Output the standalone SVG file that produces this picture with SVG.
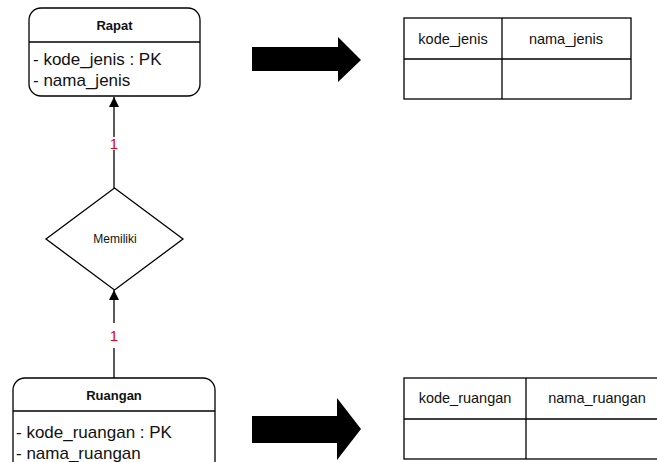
<svg xmlns="http://www.w3.org/2000/svg" width="657" height="462" viewBox="0 0 657 462">
<defs>
<marker id="ah" viewBox="0 0 10 10" refX="10" refY="5" markerWidth="10" markerHeight="10" markerUnits="userSpaceOnUse" orient="auto">
<path d="M0,0 L10,5 L0,10 Z" fill="#000"/>
</marker>
<style>
.box{fill:#fff;stroke:#000;stroke-width:1.3}
.ln{stroke:#000;stroke-width:1.3;fill:none}
.t{font-family:"Liberation Sans",Arial,sans-serif;fill:#111}
.title{font-size:13px;font-weight:bold;text-anchor:middle}
.attr{font-size:17px}
.hdr{font-size:14.5px;text-anchor:middle}
.card{font-family:"Liberation Sans",Arial,sans-serif;font-size:15px;fill:#e8001c;text-anchor:middle}
</style>
</defs>
<rect width="657" height="462" fill="#fff"/>
<g id="connectors">
<line class="ln" x1="114" y1="188" x2="114" y2="150"/>
<line class="ln" x1="114" y1="137" x2="114" y2="97" marker-end="url(#ah)"/>
<text class="card" x="114" y="149">1</text>
<line class="ln" x1="114" y1="378" x2="114" y2="348"/>
<line class="ln" x1="114" y1="323" x2="114" y2="290" marker-end="url(#ah)"/>
<text class="card" x="114" y="341">1</text>
</g>
<g id="rapat">
<rect class="box" x="29" y="8" width="171" height="88" rx="12"/>
<line class="ln" x1="29" y1="42" x2="200" y2="42"/>
<text class="t title" x="114.5" y="30">Rapat</text>
<text class="t attr" x="33" y="65">- kode_jenis : PK</text>
<text class="t attr" x="33" y="86">- nama_jenis</text>
</g>
<g id="memiliki">
<polygon class="box" points="114.5,188 183,239 114.5,290 46,239"/>
<text class="t" x="115" y="243" font-size="12" text-anchor="middle">Memiliki</text>
</g>
<g id="ruangan">
<rect class="box" x="13" y="378" width="202" height="100" rx="12"/>
<line class="ln" x1="13" y1="411" x2="215" y2="411"/>
<text class="t title" x="114" y="400">Ruangan</text>
<text class="t attr" x="16" y="438">- kode_ruangan : PK</text>
<text class="t attr" x="16" y="459">- nama_ruangan</text>
</g>
<g id="arrow1">
<polygon points="252,47 338,47 338,37 361,60 338,82 338,71 252,71" fill="#000"/>
</g>
<g id="arrow2">
<polygon points="252,416 337,416 337,398 361,429 337,460 337,443 252,443" fill="#000"/>
</g>
<g id="table1">
<rect class="box" x="404" y="18" width="227" height="81"/>
<line class="ln" x1="404" y1="59" x2="631" y2="59"/>
<line class="ln" x1="502" y1="18" x2="502" y2="99"/>
<text class="t hdr" x="453" y="44">kode_jenis</text>
<text class="t hdr" x="566" y="44">nama_jenis</text>
</g>
<g id="table2">
<rect class="box" x="404" y="378" width="260" height="81"/>
<line class="ln" x1="404" y1="419" x2="664" y2="419"/>
<line class="ln" x1="526" y1="378" x2="526" y2="459"/>
<text class="t hdr" x="465" y="403">kode_ruangan</text>
<text class="t hdr" x="597" y="403">nama_ruangan</text>
</g>
</svg>
